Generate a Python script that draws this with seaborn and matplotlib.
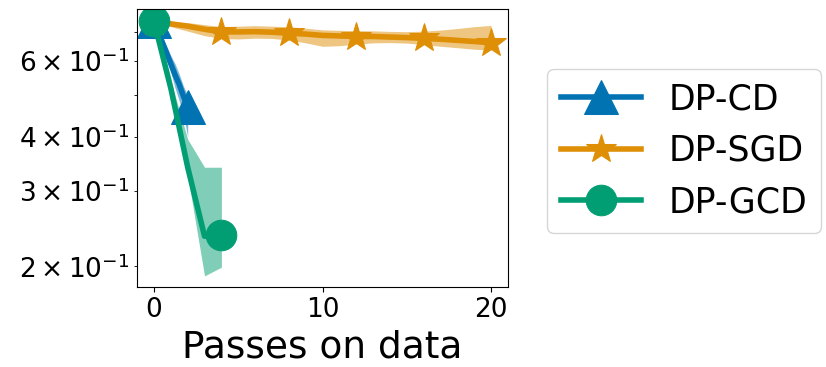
import numpy as np
import pandas as pd
import seaborn as sns
import matplotlib
matplotlib.use("Agg")
import matplotlib.pyplot as plt

# DP-CD: mean and band (passes on data)
cd_x = [0, 0.25, 0.5, 0.75, 1.0, 1.25, 1.5, 1.75, 2.0]
cd_mean = [0.743, 0.702, 0.663, 0.627, 0.592, 0.558, 0.530, 0.497, 0.470]
cd_lo = [0.738, 0.690, 0.645, 0.602, 0.565, 0.520, 0.485, 0.450, 0.400]
cd_hi = [0.748, 0.716, 0.684, 0.650, 0.618, 0.592, 0.560, 0.525, 0.500]

# DP-SGD
sgd_x = list(range(21))
sgd_mean = [0.741, 0.733, 0.724, 0.712, 0.702, 0.702, 0.703, 0.701, 0.697, 0.694, 0.689,
            0.687, 0.685, 0.685, 0.683, 0.681, 0.678, 0.675, 0.671, 0.667, 0.662]
sgd_lo = [0.735, 0.722, 0.705, 0.688, 0.678, 0.676, 0.679, 0.678, 0.672, 0.662, 0.650,
          0.652, 0.658, 0.662, 0.663, 0.661, 0.656, 0.650, 0.645, 0.640, 0.637]
sgd_hi = [0.748, 0.742, 0.738, 0.730, 0.722, 0.724, 0.726, 0.724, 0.722, 0.716, 0.710,
          0.708, 0.707, 0.706, 0.704, 0.703, 0.705, 0.709, 0.715, 0.722, 0.727]

# DP-GCD
gcd_x = [0, 1, 2, 3, 4]
gcd_mean = [0.743, 0.519, 0.340, 0.235, 0.237]
gcd_lo = [0.738, 0.500, 0.325, 0.190, 0.199]
gcd_hi = [0.748, 0.540, 0.395, 0.340, 0.340]

labels = ["DP-CD", "DP-SGD", "DP-GCD"]

pal = sns.color_palette("colorblind")
BLUE, ORANGE, GREEN = pal[0], pal[1], pal[2]

fig = plt.figure(figsize=(8.26, 3.67), dpi=100)
ax = fig.add_axes([0.166, 0.218, 0.449, 0.757])

series = [
    (cd_x, cd_mean, cd_lo, cd_hi, BLUE, "^", 24, [0, len(cd_x) - 1]),
    (sgd_x, sgd_mean, sgd_lo, sgd_hi, ORANGE, "*", 22, 4),
    (gcd_x, gcd_mean, gcd_lo, gcd_hi, GREEN, "o", 22, [0, len(gcd_x) - 1]),
]

for (x, m, lo, hi, c, mk, ms, every), lab in zip(series, labels):
    ax.fill_between(x, lo, hi, color=c, alpha=0.5, linewidth=0)
    sns.lineplot(x=x, y=m, ax=ax, color=c, linewidth=4, marker=mk,
                 markersize=ms, markevery=every, markeredgecolor=c,
                 label=lab, legend=False)

ax.set_yscale("log")
ax.set_ylim(0.179, 0.793)
ax.set_xlim(-1, 21)
ax.set_xticks([0, 10, 20])
ax.tick_params(axis="both", which="both", labelsize=19)
ax.set_xlabel("Passes on data", fontsize=27, labelpad=5)
ax.set_ylabel("")

h, l = ax.get_legend_handles_labels()
ax.legend(h, l, loc="center left", bbox_to_anchor=(1.105, 0.49),
          borderaxespad=0, fontsize=25, handlelength=2.3)

plt.savefig("out.png", dpi=100)
